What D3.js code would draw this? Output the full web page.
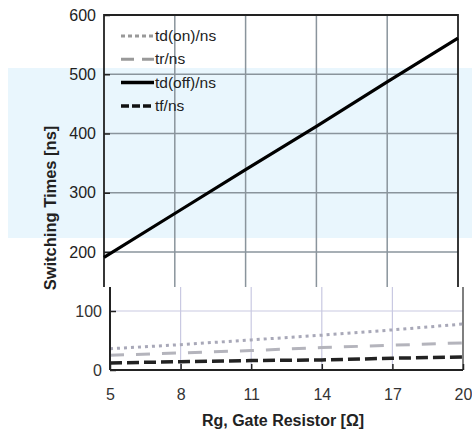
<!DOCTYPE html>
<html>
<head>
<meta charset="utf-8">
<script src="https://cdn.jsdelivr.net/npm/d3@7"></script>
<style>
  body { margin: 0; background: #fff; }
  text { font-family: "Liberation Sans", Arial, sans-serif; }
</style>
</head>
<body>
<div id="container"></div>
<script>
const WIDTH = 472;
const HEIGHT = 435;

// data
var rg = [5, 8, 11, 14, 17, 20];
var tdOff = [191, 265, 339, 412, 487, 561];
var tdOn = [36, 43, 51, 59, 68, 78];
var tr = [25, 29, 33, 38, 42, 46];
var tf = [12, 14, 16, 17, 20, 22];
var upperTicks = [200, 300, 400, 500, 600];
var lowerTicks = [0, 100];
var legendNames = ["td(on)/ns", "tr/ns", "td(off)/ns", "tf/ns"];

var translate = function (x, y) {
    return "translate(" + x + "," + y + ")";
};

var svg = d3.select("#container")
    .append("svg")
    .attr("width", WIDTH)
    .attr("height", HEIGHT);

// pale blue band across the middle
svg.append("rect")
    .attr("x", 8).attr("y", 68)
    .attr("width", WIDTH - 8).attr("height", 170)
    .attr("fill", "#e9f6fd");

// ---- upper panel (200..600) ----
var xU = d3.scaleLinear().domain([5, 20]).range([104, 458]);
var yU = d3.scaleLinear().domain([200, 600]).range([252, 15]);
var upperBottom = 287;

var gU = svg.append("g");

gU.selectAll(".hgrid").data(upperTicks.slice(0, 4))
    .enter().append("line")
    .attr("x1", xU(5)).attr("x2", xU(20))
    .attr("y1", function (d) { return yU(d); })
    .attr("y2", function (d) { return yU(d); })
    .attr("stroke", "#8a949c").attr("stroke-width", 1.5);

gU.selectAll(".vgrid").data(rg.slice(1, 5))
    .enter().append("line")
    .attr("x1", function (d) { return xU(d); })
    .attr("x2", function (d) { return xU(d); })
    .attr("y1", yU(600)).attr("y2", upperBottom)
    .attr("stroke", "#8a949c").attr("stroke-width", 1.5);

// frame
gU.append("path")
    .attr("d", "M" + xU(5) + "," + upperBottom + "V" + yU(600) + "H" + xU(20) + "V" + upperBottom)
    .attr("fill", "none").attr("stroke", "#222").attr("stroke-width", 1.8);

var yAxisU = d3.axisLeft(yU).tickValues(upperTicks).tickSize(-6).tickPadding(8);
gU.append("g")
    .attr("transform", translate(xU(5), 0))
    .call(yAxisU)
    .call(function (g) { g.select(".domain").remove(); })
    .call(function (g) {
        g.selectAll("line").attr("stroke", "#222").attr("stroke-width", 1.5);
        g.selectAll("text").attr("font-size", 16).attr("fill", "#222");
    });

var lineU = d3.line()
    .x(function (d, i) { return xU(rg[i]); })
    .y(function (d) { return yU(d); });

gU.append("path")
    .attr("d", lineU(tdOff))
    .attr("fill", "none").attr("stroke", "#000").attr("stroke-width", 3.2);

// ---- lower panel (0..140) ----
var xL = d3.scaleLinear().domain([5, 20]).range([110, 463]);
var yL = d3.scaleLinear().domain([0, 100]).range([370, 311]);

var gL = svg.append("g");
gL.append("rect")
    .attr("x", 105).attr("y", upperBottom)
    .attr("width", 362).attr("height", HEIGHT - upperBottom)
    .attr("fill", "#fff");

gL.append("line")
    .attr("x1", xL(5)).attr("x2", xL(20))
    .attr("y1", yL(100)).attr("y2", yL(100))
    .attr("stroke", "#c9c9e2").attr("stroke-width", 1.2);

gL.selectAll(".vgridL").data(rg.slice(1, 5))
    .enter().append("line")
    .attr("x1", function (d) { return xL(d); })
    .attr("x2", function (d) { return xL(d); })
    .attr("y1", upperBottom).attr("y2", yL(0))
    .attr("stroke", "#c9c9e2").attr("stroke-width", 1.2);

gL.append("line")
    .attr("x1", xL(20)).attr("x2", xL(20))
    .attr("y1", upperBottom).attr("y2", yL(0))
    .attr("stroke", "#555").attr("stroke-width", 1.5);

var lineL = d3.line()
    .x(function (d, i) { return xL(rg[i]); })
    .y(function (d) { return yL(d); });

gL.append("path").attr("d", lineL(tdOn))
    .attr("fill", "none").attr("stroke", "#a8a8b8").attr("stroke-width", 3)
    .attr("stroke-dasharray", "3,4");
gL.append("path").attr("d", lineL(tr))
    .attr("fill", "none").attr("stroke", "#b4b4bc").attr("stroke-width", 3)
    .attr("stroke-dasharray", "14,12");
gL.append("path").attr("d", lineL(tf))
    .attr("fill", "none").attr("stroke", "#222").attr("stroke-width", 3.5)
    .attr("stroke-dasharray", "12,5");

var xAxisL = d3.axisBottom(xL).tickValues(rg).tickSize(-6).tickPadding(19);
gL.append("g")
    .attr("transform", translate(0, yL(0)))
    .call(xAxisL)
    .call(function (g) {
        g.select(".domain").attr("d", "M" + xL(5) + ",0H" + xL(20)).attr("stroke", "#222").attr("stroke-width", 2);
        g.selectAll("line").attr("stroke", "#222").attr("stroke-width", 1.5);
        g.selectAll("text").attr("font-size", 16).attr("fill", "#333");
    });

var yAxisL = d3.axisLeft(yL).tickValues(lowerTicks).tickSize(-6).tickPadding(8);
gL.append("g")
    .attr("transform", translate(xL(5), 0))
    .call(yAxisL)
    .call(function (g) {
        g.select(".domain").attr("d", "M0," + upperBottom + "V" + yL(0)).attr("stroke", "#222").attr("stroke-width", 2);
        g.selectAll("line").attr("stroke", "#222").attr("stroke-width", 1.5);
        g.selectAll("text").attr("font-size", 16).attr("fill", "#333");
    });

// ---- legend ----
var legendStyles = [
    {stroke: "#999", dash: "4,3", w: 3},
    {stroke: "#999", dash: "13,8", w: 3},
    {stroke: "#000", dash: null, w: 3.5},
    {stroke: "#111", dash: "8,3", w: 3.5}
];
var leg = svg.append("g").attr("transform", translate(121, 36));
leg.selectAll("line").data(legendNames)
    .enter().append("line")
    .attr("x1", 0).attr("x2", 33)
    .attr("y1", function (d, i) { return i * 23.3; })
    .attr("y2", function (d, i) { return i * 23.3; })
    .attr("stroke", function (d, i) { return legendStyles[i].stroke; })
    .attr("stroke-width", function (d, i) { return legendStyles[i].w; })
    .attr("stroke-dasharray", function (d, i) { return legendStyles[i].dash; });
leg.selectAll("text").data(legendNames)
    .enter().append("text")
    .attr("x", 34)
    .attr("y", function (d, i) { return i * 23.3 + 5; })
    .attr("font-size", 15.5)
    .attr("fill", "#222")
    .text(function (d) { return d; });

// ---- axis titles ----
svg.append("text")
    .attr("transform", translate(56, 208) + " rotate(-90)")
    .attr("text-anchor", "middle")
    .attr("font-size", 16.5).attr("font-weight", "bold").attr("fill", "#222")
    .text("Switching Times [ns]");

svg.append("text")
    .attr("x", 283).attr("y", 426)
    .attr("text-anchor", "middle")
    .attr("font-size", 16).attr("font-weight", "bold").attr("fill", "#222")
    .text("Rg, Gate Resistor [Ω]");
</script>
</body>
</html>
